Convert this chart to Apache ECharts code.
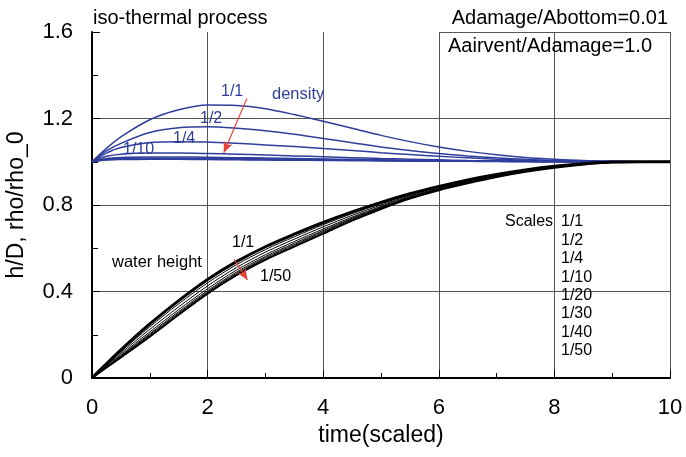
<!DOCTYPE html>
<html>
<head>
<meta charset="utf-8">
<script src="https://cdn.jsdelivr.net/npm/echarts@6/dist/echarts.min.js"></script>
<style>
  html, body { margin: 0; padding: 0; background: #fff; }
  #main { width: 686px; height: 457px; }
</style>
</head>
<body>
<div id="main"></div>
<script>
// iso-thermal process chart
var chart = echarts.init(document.getElementById('main'))

var scaleNames = ['1/1', '1/2', '1/4', '1/10', '1/20', '1/30', '1/40', '1/50']

// density rho/rho_0
var densTime = [0, 0.25, 0.5, 1, 1.5, 2, 2.5, 3, 3.5, 4, 4.5, 5, 5.5, 6, 6.5, 7, 7.5, 8, 8.5, 9, 9.5, 10]
var dens_1_1 = [1, 1.062, 1.115, 1.194, 1.24, 1.262, 1.26, 1.245, 1.218, 1.187, 1.155, 1.122, 1.093, 1.068, 1.048, 1.032, 1.02, 1.012, 1.006, 1.003, 1.001, 1.0]
var dens_1_2 = [1, 1.05, 1.085, 1.135, 1.157, 1.162, 1.155, 1.143, 1.127, 1.108, 1.088, 1.068, 1.052, 1.038, 1.027, 1.018, 1.011, 1.006, 1.003, 1.001, 1.0, 1.0]
var dens_1_4 = [1, 1.04, 1.066, 1.089, 1.093, 1.091, 1.085, 1.078, 1.07, 1.061, 1.052, 1.042, 1.033, 1.025, 1.018, 1.012, 1.007, 1.004, 1.002, 1.001, 1.0, 1.0]
var dens_1_10 = [1, 1.025, 1.035, 1.04, 1.04, 1.038, 1.035, 1.031, 1.027, 1.023, 1.019, 1.015, 1.012, 1.009, 1.006, 1.004, 1.003, 1.002, 1.001, 1.0, 1.0, 1.0]
var dens_1_20 = [1, 1.015, 1.02, 1.022, 1.022, 1.021, 1.019, 1.017, 1.015, 1.013, 1.011, 1.009, 1.007, 1.005, 1.004, 1.003, 1.002, 1.001, 1.0, 1.0, 1.0, 1.0]
var dens_1_30 = [1, 1.012, 1.015, 1.016, 1.016, 1.015, 1.014, 1.013, 1.011, 1.01, 1.008, 1.007, 1.005, 1.004, 1.003, 1.002, 1.001, 1.001, 1.0, 1.0, 1.0, 1.0]
var dens_1_40 = [1, 1.01, 1.012, 1.013, 1.013, 1.012, 1.011, 1.01, 1.009, 1.008, 1.007, 1.006, 1.004, 1.003, 1.002, 1.002, 1.001, 1.0, 1.0, 1.0, 1.0, 1.0]
var dens_1_50 = [1, 1.008, 1.01, 1.011, 1.011, 1.01, 1.009, 1.008, 1.007, 1.006, 1.005, 1.004, 1.003, 1.002, 1.002, 1.001, 1.001, 1.0, 1.0, 1.0, 1.0, 1.0]

// water height h/D
var hTime = [0, 0.5, 1, 1.5, 2, 2.5, 3, 3.5, 4, 4.5, 5, 5.5, 6, 6.5, 7, 7.5, 8, 8.5, 9, 10]
var h_1_1 = [0, 0.13, 0.25, 0.358, 0.456, 0.538, 0.607, 0.665, 0.719, 0.768, 0.812, 0.852, 0.886, 0.916, 0.941, 0.962, 0.979, 0.991, 0.999, 1.0]
var h_1_2 = [0, 0.122, 0.237, 0.343, 0.44, 0.524, 0.594, 0.653, 0.709, 0.76, 0.806, 0.847, 0.882, 0.913, 0.939, 0.96, 0.978, 0.991, 0.999, 1.0]
var h_1_4 = [0, 0.115, 0.225, 0.329, 0.426, 0.511, 0.582, 0.642, 0.699, 0.752, 0.8, 0.842, 0.878, 0.91, 0.936, 0.958, 0.977, 0.99, 0.998, 1.0]
var h_1_10 = [0, 0.108, 0.213, 0.316, 0.413, 0.499, 0.57, 0.631, 0.689, 0.744, 0.794, 0.838, 0.875, 0.907, 0.934, 0.957, 0.976, 0.989, 0.998, 1.0]
var h_1_20 = [0, 0.103, 0.205, 0.307, 0.404, 0.49, 0.562, 0.623, 0.682, 0.739, 0.79, 0.835, 0.873, 0.905, 0.933, 0.956, 0.975, 0.989, 0.998, 1.0]
var h_1_30 = [0, 0.1, 0.2, 0.301, 0.398, 0.484, 0.556, 0.617, 0.677, 0.735, 0.787, 0.833, 0.871, 0.904, 0.932, 0.955, 0.974, 0.988, 0.997, 1.0]
var h_1_40 = [0, 0.097, 0.195, 0.296, 0.394, 0.479, 0.551, 0.612, 0.672, 0.731, 0.784, 0.831, 0.87, 0.902, 0.93, 0.954, 0.973, 0.988, 0.997, 1.0]
var h_1_50 = [0, 0.095, 0.191, 0.292, 0.39, 0.475, 0.546, 0.607, 0.667, 0.727, 0.781, 0.829, 0.868, 0.9, 0.929, 0.953, 0.972, 0.987, 0.997, 1.0]

var xTicks = [0, 2, 4, 6, 8, 10]
var yTicks = [0, 0.4, 0.8, 1.2, 1.6]

var densAll = [dens_1_1, dens_1_2, dens_1_4, dens_1_10, dens_1_20, dens_1_30, dens_1_40, dens_1_50]
var hAll = [h_1_1, h_1_2, h_1_4, h_1_10, h_1_20, h_1_30, h_1_40, h_1_50]

var blue = '#2f3e9c'
var red = '#e5413a'
var font = 'Liberation Sans'

function pairs(xs, ys) {
  var out = []
  for (var i = 0; i < xs.length; i++) out.push([xs[i], ys[i]])
  return out
}

var series = []
for (var i = 0; i < densAll.length; i++) {
  series.push({
    name: 'density ' + scaleNames[i],
    type: 'line',
    smooth: 0.3,
    symbol: 'none',
    lineStyle: { color: blue, width: 1.5 },
    data: pairs(densTime, densAll[i]),
  })
}
for (var j = 0; j < hAll.length; j++) {
  var w = 1
  if (j === 0) w = 3
  if (j === hAll.length - 1) w = 1.8
  series.push({
    name: 'height ' + scaleNames[j],
    type: 'line',
    smooth: 0.3,
    symbol: 'none',
    lineStyle: { color: '#000', width: w },
    data: pairs(hTime, hAll[j]),
  })
}

// frame piece on top + the two red arrows
series[0].markLine = {
  silent: true,
  animation: false,
  symbol: ['none', 'none'],
  label: { show: false },
  data: [
    [{ coord: [6, 1.6], lineStyle: { color: '#555', width: 1, type: 'solid' } }, { coord: [10, 1.6] }],
    [
      { coord: [2.68, 1.293], symbol: 'none', lineStyle: { color: red, width: 1.2, type: 'solid' } },
      { coord: [2.28, 1.042], symbol: 'arrow', symbolSize: [7, 11] },
    ],
    [
      { coord: [2.46, 0.549], symbol: 'none', lineStyle: { color: red, width: 1.2, type: 'solid' } },
      { coord: [2.69, 0.453], symbol: 'arrow', symbolSize: [7, 11] },
    ],
  ],
}

function label(x, y, s, size, color) {
  return { type: 'text', left: x, top: y, z: 100, style: { text: s, font: size + 'px "' + font + '"', fill: color } }
}

var graphics = [
  label(93, 8, 'iso-thermal process', 20, '#000'),
  { type: 'text', right: 18, top: 8, z: 100, style: { text: 'Adamage/Abottom=0.01', font: '20px "' + font + '"', fill: '#000' } },
  label(448, 36, 'Aairvent/Adamage=1.0', 20, '#000'),
  label(221, 84, '1/1', 16, blue),
  label(272, 86, 'density', 16.5, blue),
  label(200, 111, '1/2', 16, blue),
  label(173, 131, '1/4', 16, blue),
  label(123, 142, '1/10', 16, blue),
  label(112, 254, 'water height', 16.5, '#000'),
  label(232, 235, '1/1', 16, '#000'),
  label(260, 269, '1/50', 16, '#000'),
  label(505, 214, 'Scales', 16, '#000'),
]
for (var k = 0; k < scaleNames.length; k++) {
  graphics.push(label(561, 214 + k * 18.4, scaleNames[k], 16, '#000'))
}

var option = {
  backgroundColor: '#fff',
  animation: false,
  textStyle: { fontFamily: font },
  grid: { left: 92, right: 16, top: 32, bottom: 79, containLabel: false, outerBoundsMode: 'none' },
  xAxis: {
    type: 'value',
    min: xTicks[0],
    max: xTicks[xTicks.length - 1],
    interval: 2,
    name: 'time(scaled)',
    nameLocation: 'middle',
    nameGap: 45,
    nameTextStyle: { fontSize: 23, color: '#000', fontFamily: font },
    axisLine: { show: true, onZero: false, lineStyle: { color: '#000', width: 2 } },
    axisTick: { show: true, inside: true, length: 8, lineStyle: { color: '#000', width: 1 } },
    minorTick: { show: true, splitNumber: 2, length: 5, lineStyle: { color: '#000', width: 1 } },
    axisLabel: { fontSize: 22, color: '#000', margin: 19, fontFamily: font },
    splitLine: { show: true, lineStyle: { color: '#555', width: 1 } },
  },
  yAxis: {
    type: 'value',
    min: yTicks[0],
    max: yTicks[yTicks.length - 1],
    interval: 0.4,
    name: 'h/D, rho/rho_0',
    nameLocation: 'middle',
    nameGap: 64,
    nameTextStyle: { fontSize: 23, color: '#000', fontFamily: font },
    axisLine: { show: true, onZero: false, lineStyle: { color: '#000', width: 2 } },
    axisTick: { show: true, inside: true, length: 8, lineStyle: { color: '#000', width: 1 } },
    minorTick: { show: true, splitNumber: 2, length: 6, lineStyle: { color: '#000', width: 1 } },
    axisLabel: { fontSize: 22, color: '#000', margin: 19, fontFamily: font },
    splitLine: { show: true, showMaxLine: false, lineStyle: { color: '#555', width: 1 } },
  },
  graphic: graphics,
  series: series,
}

chart.setOption(option)
</script>
</body>
</html>
